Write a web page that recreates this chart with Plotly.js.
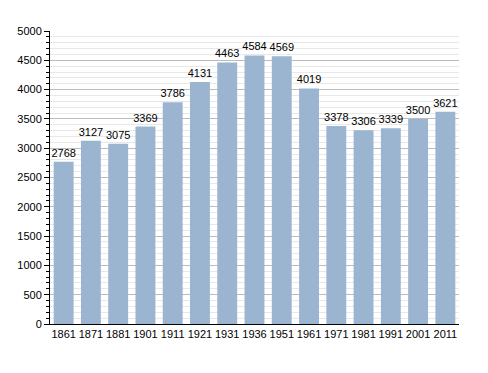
<!DOCTYPE html>
<html><head><meta charset="utf-8">
<script src="https://cdn.plot.ly/plotly-3.0.1.min.js"></script>
<style>body{margin:0;background:#fff}#c{width:488px;height:373px}</style>
</head><body><div id="c"></div>
<script>
const years = ["1861","1871","1881","1901","1911","1921","1931","1936","1951","1961","1971","1981","1991","2001","2011"];
const population = [2768,3127,3075,3369,3786,4131,4463,4584,4569,4019,3378,3306,3339,3500,3621];

Plotly.newPlot('c', [{
  type: 'bar',
  x: years,
  y: population,
  text: population.map(String),
  textposition: 'outside',
  cliponaxis: false,
  textfont: {family: 'Liberation Sans, Arial, sans-serif', size: 11, color: '#000'},
  marker: {color: '#9bb5d1', line: {width: 0}},
  hoverinfo: 'none'
}], {
  width: 488, height: 373,
  margin: {l: 50, r: 29, t: 31, b: 49},
  paper_bgcolor: '#fff', plot_bgcolor: '#fff',
  bargap: 0.27,
  uniformtext: {mode: 'show', minsize: 11},
  showlegend: false,
  font: {family: 'Liberation Sans, Arial, sans-serif', size: 11, color: '#000'},
  xaxis: {
    type: 'category',
    showline: true, linecolor: '#000', linewidth: 1,
    ticks: '', showgrid: false,
    tickfont: {size: 11, color: '#000'}
  },
  yaxis: {
    range: [0, 5000], dtick: 500,
    showline: true, linecolor: '#000', linewidth: 1,
    ticks: 'outside', ticklen: 5, tickcolor: '#000',
    gridcolor: '#bcbcbc', gridwidth: 1,
    zeroline: false,
    minor: {dtick: 100, ticks: 'outside', ticklen: 3, tickcolor: '#000', showgrid: true, gridcolor: '#e8e8e8', gridwidth: 1},
    tickfont: {size: 11, color: '#000'}
  }
}, {staticPlot: true, displayModeBar: false});
</script></body></html>
